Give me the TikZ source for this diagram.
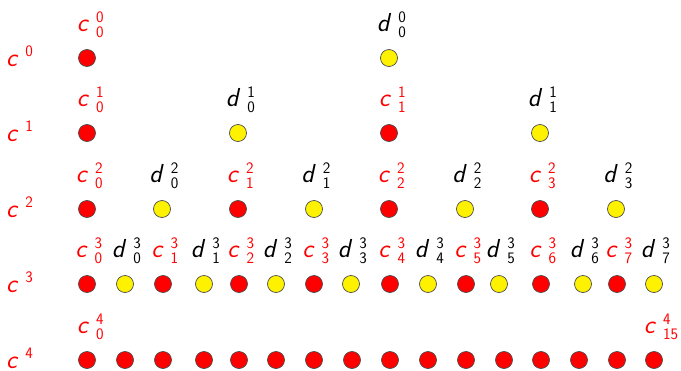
\documentclass[tikz,border=0pt]{standalone}
\usepackage{fontspec}
\usepackage{tikz}

% letter with stacked upper and lower index
\newcommand{\stk}[3]{\textit{#1}\hspace{7pt}{\fontsize{16}{15}\selectfont\begin{tabular}{@{}l@{}}#2\\#3\end{tabular}}}
% level name on the left
\newcommand{\lev}[1]{\textit{c}\hspace{7pt}\raisebox{10pt}{\fontsize{16}{16}\selectfont #1}}

\begin{document}
\begin{tikzpicture}[x=1pt,y=-1pt,
  font=\sffamily\fontsize{26}{28}\selectfont,
  cdot/.style={circle,draw=black!70,fill=red,minimum size=17pt,inner sep=0pt,line width=0.7pt},
  ddot/.style={cdot,fill=yellow},
  clab/.style={anchor=west,inner sep=0pt,text=red},
  dlab/.style={anchor=west,inner sep=0pt,text=black},
  levlab/.style={anchor=base west,inner sep=0pt,text=red}]
  \useasboundingbox (0,0) rectangle (681,370);

  % level names
  \foreach \y [count=\k from 0] in {58,133,209,284,360}
    \node[levlab] (lev\k) at (6,\y+8) {\lev{\k}};

  % level 0
  \node[cdot] (c00) at (87,58) {};
  \node[clab] at ([shift={(-1.5pt,31pt)}]c00.west) {\stk{c}{0}{0}};
  \node[ddot] (d00) at (389,58) {};
  \node[dlab] at ([shift={(-3.5pt,31pt)}]d00.west) {\stk{d}{0}{0}};

  % level 1
  \foreach \x [count=\i from 0] in {87,389} {
    \node[cdot] (c1\i) at (\x,133) {};
    \node[clab] at ([shift={(-1.5pt,31pt)}]c1\i.west) {\stk{c}{1}{\i}};
  }
  \foreach \x [count=\i from 0] in {238,540} {
    \node[ddot] (d1\i) at (\x,133) {};
    \node[dlab] at ([shift={(-3.5pt,31pt)}]d1\i.west) {\stk{d}{1}{\i}};
  }

  % level 2
  \foreach \x [count=\i from 0] in {87,238,389,540} {
    \node[cdot] (c2\i) at (\x,209) {};
    \node[clab] at ([shift={(-2.5pt,31pt)}]c2\i.west) {\stk{c}{2}{\i}};
  }
  \foreach \x [count=\i from 0] in {162,314,465,616} {
    \node[ddot] (d2\i) at (\x,209) {};
    \node[dlab] at ([shift={(-4pt,31pt)}]d2\i.west) {\stk{d}{2}{\i}};
  }

  % level 3
  \foreach \x [count=\i from 0] in {87,163,239,314,390,466,541,617} {
    \node[cdot] (c3\i) at (\x,284) {};
    \node[clab] at ([shift={(-3pt,31pt)}]c3\i.west) {\stk{c}{3}{\i}};
  }
  \foreach \x [count=\i from 0] in {125,204,276,351,428,499,583,654} {
    \node[ddot] (d3\i) at (\x,284) {};
    \node[dlab] at ([shift={(-4.5pt,31pt)}]d3\i.west) {\stk{d}{3}{\i}};
  }

  % level 4
  \foreach \x [count=\i from 0] in {87,125,163,204,239,276,314,352,390,428,466,504,541,579,617,654}
    \node[cdot] (c4\i) at (\x,360) {};
  \node[clab] at ([shift={(-1.5pt,31pt)}]c40.west) {\stk{c}{4}{0}};
  \node[clab] at ([shift={(-1.5pt,31pt)}]c415.west) {\stk{c}{4}{15}};
\end{tikzpicture}
\end{document}
